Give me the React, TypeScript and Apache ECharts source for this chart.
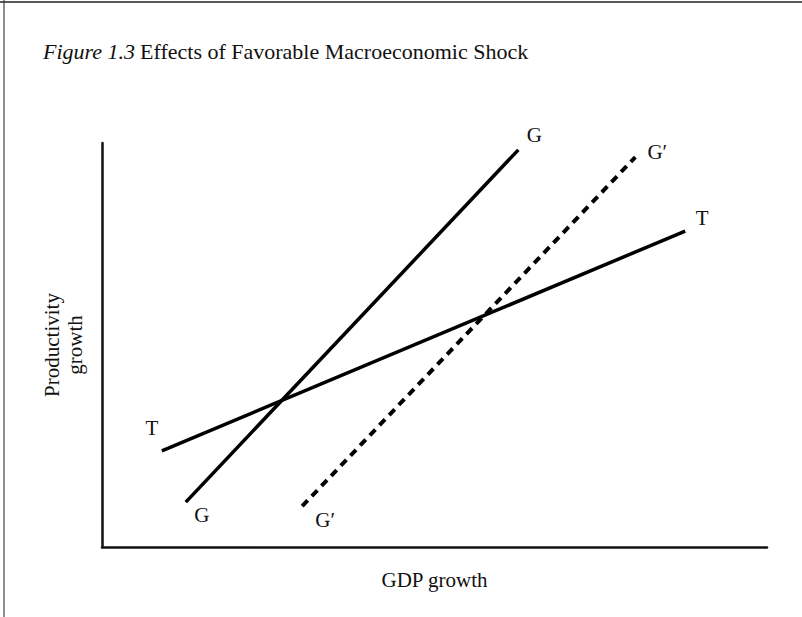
import React, { useEffect, useRef } from "react";
import * as echarts from "echarts";

const TITLE_ITALIC = "Figure 1.3";
const TITLE_REST = "Effects of Favorable Macroeconomic Shock";
const X_NAME = "GDP growth";
const Y_NAME = "Productivity\ngrowth";

const SERIES_NAMES = ["G", "G\u2032", "T"];
const G_LINE = [
  [12.6, 11.1],
  [62.6, 98.3],
];
const G_PRIME_LINE = [
  [30.1, 10.1],
  [80.2, 96.5],
];
const T_LINE = [
  [9.0, 23.8],
  [87.7, 78.2],
];

const FONT = "'Liberation Serif', 'DejaVu Serif', serif";

function endpoints(points: number[][], offsets: number[][]) {
  return points.map((p, i) => ({
    value: p,
    label: {
      show: true,
      position: "inside",
      offset: offsets[i],
      formatter: "{a}",
      color: "#111",
      fontFamily: FONT,
      fontSize: 21,
      align: "center",
      verticalAlign: "middle",
    },
  }));
}

export default function App() {
  const ref = useRef<HTMLDivElement>(null);
  useEffect(() => {
    if (!ref.current) return;
    const chart = echarts.init(ref.current, undefined, { renderer: "svg" });
    const lineCommon = {
      type: "line",
      symbol: "circle",
      symbolSize: 1,
      itemStyle: { color: "rgba(0,0,0,0)" },
      silent: true,
    };
    chart.setOption({
      animation: false,
      backgroundColor: "#fff",
      title: {
        text: `{i|${TITLE_ITALIC}} {n|${TITLE_REST}}`,
        left: 38,
        top: 35,
        textStyle: {
          fontWeight: "normal",
          rich: {
            i: { fontFamily: FONT, fontStyle: "italic", fontWeight: "normal", fontSize: 22, color: "#111" },
            n: { fontFamily: FONT, fontWeight: "normal", fontSize: 22, color: "#111" },
          },
        },
      },
      graphic: [
        { type: "line", shape: { x1: 0, y1: 2, x2: 802, y2: 2 }, style: { stroke: "#222", lineWidth: 1.5 } },
        { type: "line", shape: { x1: 4, y1: 0, x2: 4, y2: 617 }, style: { stroke: "#444", lineWidth: 1.2 } },
      ],
      grid: { left: 102, top: 143, right: 35, bottom: 70, containLabel: false },
      xAxis: {
        type: "value",
        min: 0,
        max: 100,
        name: X_NAME,
        nameLocation: "middle",
        nameGap: 22,
        nameTextStyle: { fontFamily: FONT, fontSize: 21, color: "#111", verticalAlign: "top" },
        axisLine: { show: true, lineStyle: { color: "#111", width: 2.5 } },
        axisTick: { show: false },
        axisLabel: { show: false },
        splitLine: { show: false },
      },
      yAxis: {
        type: "value",
        min: 0,
        max: 100,
        name: Y_NAME,
        nameLocation: "middle",
        nameRotate: 90,
        nameGap: 16,
        nameTextStyle: { fontFamily: FONT, fontSize: 21, color: "#111", lineHeight: 23 },
        axisLine: { show: true, lineStyle: { color: "#111", width: 2.5 } },
        axisTick: { show: false },
        axisLabel: { show: false },
        splitLine: { show: false },
      },
      series: [
        {
          ...lineCommon,
          name: SERIES_NAMES[0],
          data: endpoints(G_LINE, [[16, 13], [16, -15]]),
          lineStyle: { color: "#000", width: 3.5 },
        },
        {
          ...lineCommon,
          name: SERIES_NAMES[1],
          data: endpoints(G_PRIME_LINE, [[23, 14], [22, -5]]),
          lineStyle: { color: "#000", width: 4, type: [8, 6] },
        },
        {
          ...lineCommon,
          name: SERIES_NAMES[2],
          data: endpoints(T_LINE, [[-10, -23], [17, -13]]),
          lineStyle: { color: "#000", width: 3.5 },
        },
      ],
    });
    return () => chart.dispose();
  }, []);
  return (
    <div
      ref={ref}
      style={{ position: "fixed", left: 0, top: 0, width: 802, height: 617 }}
    />
  );
}
